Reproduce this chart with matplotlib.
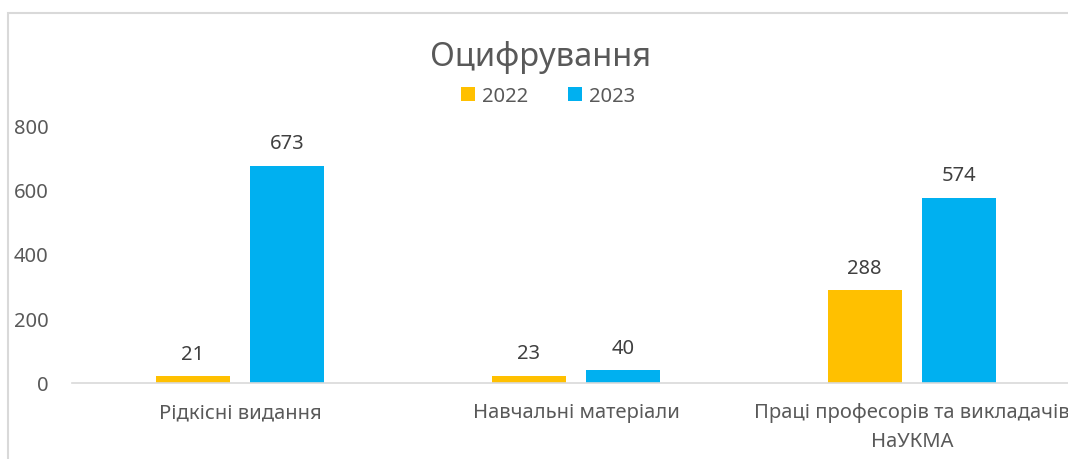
import matplotlib.pyplot as plt
from matplotlib.patches import Rectangle
import numpy as np

plt.rcParams['font.family'] = ['Noto Sans', 'DejaVu Sans']

categories = ['Рідкісні видання', 'Навчальні матеріали', 'Праці професорів та викладачів\nНаУКМА']
values_2022 = [21, 23, 288]
values_2023 = [673, 40, 574]
series_labels = ['2022', '2023']
colors = ['#FFC000', '#00B0F0']
yticks = [0, 200, 400, 600, 800]

W, H = 1068, 460
fig = plt.figure(figsize=(W / 100, H / 100), dpi=100)

# chart border (cut off on the right and bottom like the screenshot)
fig.patches.append(Rectangle((8 / W, -0.1), 1.2, 1 - 14 / H + 0.1, transform=fig.transFigure,
                             fill=False, edgecolor='#D9D9D9', linewidth=1.5))

ax = fig.add_axes([72 / W, 76 / H, 1008 / W, 258 / H])
x = np.arange(len(categories))
bw = 0.22
off = 0.141
b1 = ax.bar(x - off, values_2022, bw, color=colors[0], label=series_labels[0])
b2 = ax.bar(x + off, values_2023, bw, color=colors[1], label=series_labels[1])
for bars in (b1, b2):
    ax.bar_label(bars, padding=9, fontsize=14.5, color='#404040')

ax.set_xlim(-0.5, 2.5)
ax.set_ylim(0, 800)
ax.set_yticks(yticks)
ax.set_xticks(x)
ax.set_xticklabels(categories, fontsize=14.5, color='#595959', linespacing=1.55)
ax.tick_params(axis='y', labelsize=14.5, labelcolor='#595959', length=0, pad=17)
ax.tick_params(axis='x', length=0, pad=14)
for s in ['top', 'right', 'left']:
    ax.spines[s].set_visible(False)
ax.spines['bottom'].set_color('#D9D9D9')
ax.spines['bottom'].set_linewidth(1.2)

fig.text(541 / W, 1 - 58 / H, 'Оцифрування', ha='center', va='center', fontsize=23.5, color='#595959')
fig.legend(loc='center', bbox_to_anchor=(548 / W, 1 - 97 / H), ncol=2, frameon=False,
           fontsize=14.5, labelcolor='#595959', handlelength=0.7, handleheight=0.7,
           handletextpad=0.35, columnspacing=2.0)

fig.savefig('out.png', dpi=100, facecolor='white')
